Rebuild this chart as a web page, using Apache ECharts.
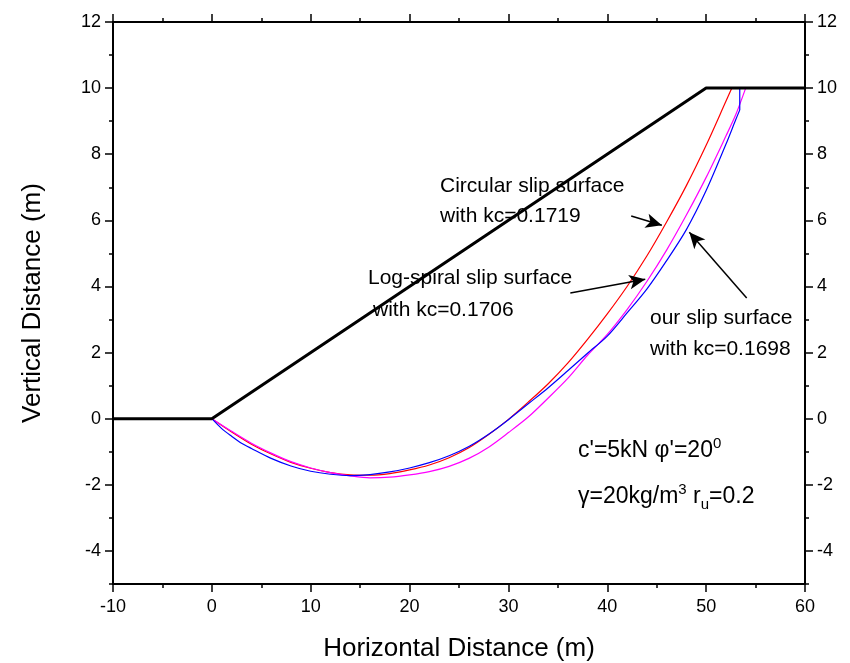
<!DOCTYPE html>
<html>
<head>
<meta charset="utf-8">
<script src="https://cdn.jsdelivr.net/npm/echarts@6/dist/echarts.min.js"></script>
<style>html,body{margin:0;padding:0;background:#fff}#c{width:850px;height:663px}</style>
</head>
<body>
<div id="c"></div>
<script>
// ground profile
var groundX = [-10, 0, 50, 60];
var groundY = [0, 0, 10, 10];
// circular slip surface (kc=0.1719)
var circX = [0, 2, 4, 6, 8, 10, 12, 14, 16, 18, 20, 22, 24, 26, 28, 30, 32, 34, 36, 38, 40, 42, 44, 46, 48, 50, 52, 52.6];
var circY = [0, -0.4, -0.77, -1.07, -1.32, -1.5, -1.63, -1.7, -1.71, -1.66, -1.55, -1.4, -1.18, -0.88, -0.48, -0.02, 0.5, 1.05, 1.68, 2.4, 3.17, 4.0, 4.92, 5.95, 7.05, 8.27, 9.6, 10];
// log-spiral slip surface (kc=0.1706)
var logX = [0, 2, 4, 6, 8, 10, 12, 14, 16, 18, 20, 22, 24, 26, 28, 30, 32, 34, 36, 38, 40, 42, 44, 46, 48, 50, 52, 53, 54];
var logY = [0, -0.38, -0.74, -1.04, -1.3, -1.49, -1.63, -1.73, -1.79, -1.77, -1.7, -1.6, -1.44, -1.2, -0.86, -0.42, 0.05, 0.62, 1.22, 1.92, 2.55, 3.3, 4.15, 5.1, 6.16, 7.3, 8.55, 9.2, 10];
// our slip surface (kc=0.1698)
var ourX = [0, 1, 2, 3, 4, 6, 8, 10, 12, 14, 16, 18, 20, 22, 24, 26, 28, 30, 32, 34, 36, 38, 40, 42, 44, 46, 48, 50, 52, 53, 53.4];
var ourY = [0, -0.3, -0.53, -0.74, -0.9, -1.2, -1.43, -1.59, -1.68, -1.72, -1.69, -1.61, -1.49, -1.33, -1.12, -0.84, -0.47, -0.03, 0.45, 0.93, 1.45, 1.98, 2.5, 3.2, 3.92, 4.78, 5.72, 6.9, 8.3, 9.05, 9.34];
// vertical end of our slip surface
var ourEndX = [53.4, 53.4];
var ourEndY = [9.34, 10];
// tick values
var yMajor = [-4, -2, 0, 2, 4, 6, 8, 10, 12];
var yMinor = [-5, -3, -1, 1, 3, 5, 7, 9, 11];
// arrows [fromX, fromY, toX, toY]
var arrowCirc = [42.42, 6.13, 45.52, 5.85];
var arrowLog = [36.26, 3.80, 43.84, 4.22];
var arrowOur = [54.1, 3.65, 48.3, 5.64];

function zip(xs, ys) { return xs.map(function (x, i) { return [x, ys[i]]; }); }

var FONT = '"Liberation Sans", Arial, sans-serif';
var chart = echarts.init(document.getElementById('c'));

function yAx(pos, custom, len, showLabel, showLine) {
  return {
    type: 'value', position: pos, min: -5, max: 12,
    axisLine: { show: showLine, onZero: false, lineStyle: { color: '#000', width: 2 } },
    axisTick: { show: true, inside: false, length: len, customValues: custom, lineStyle: { color: '#000', width: 1.5 } },
    axisLabel: { show: showLabel, customValues: custom, margin: 12, color: '#000', fontSize: 18, fontFamily: FONT },
    splitLine: { show: false }
  };
}
function xAx(pos, showLabel) {
  return {
    type: 'value', position: pos, min: -10, max: 60, interval: 10,
    axisLine: { show: true, onZero: false, lineStyle: { color: '#000', width: 2 } },
    axisTick: { show: true, inside: false, length: 8, lineStyle: { color: '#000', width: 1.5 } },
    minorTick: { show: true, splitNumber: 2, length: 4, lineStyle: { color: '#000', width: 1.5 } },
    axisLabel: { show: showLabel, margin: 14, color: '#000', fontSize: 18, fontFamily: FONT },
    splitLine: { show: false }
  };
}

var xa0 = xAx('bottom', true);
xa0.name = 'Horizontal Distance (m)';
xa0.nameLocation = 'middle';
xa0.nameGap = 52;
xa0.nameTextStyle = { fontSize: 26, color: '#000', fontFamily: FONT };
var ya0 = yAx('left', yMajor, 8, true, true);
ya0.name = 'Vertical Distance (m)';
ya0.nameLocation = 'middle';
ya0.nameGap = 67;
ya0.nameTextStyle = { fontSize: 26, color: '#000', fontFamily: FONT };

function arrowLine(a) {
  return [{ coord: [a[0], a[1]] }, { coord: [a[2], a[3]] }];
}

var option = {
  animation: false,
  backgroundColor: '#fff',
  grid: { left: 113, right: 45, top: 22, bottom: 79, containLabel: false, outerBoundsMode: 'none' },
  xAxis: [xa0, xAx('top', false)],
  yAxis: [ya0, yAx('left', yMinor, 4, false, false), yAx('right', yMajor, 8, true, true), yAx('right', yMinor, 4, false, false)],
  series: [
    { type: 'line', data: zip(groundX, groundY), showSymbol: false, lineStyle: { color: '#000', width: 3 }, z: 5,
      markLine: {
        silent: true, symbol: ['none', 'arrow'], symbolSize: [11, 16],
        label: { show: false },
        lineStyle: { color: '#000', width: 1.5, type: 'solid' },
        data: [arrowLine(arrowCirc), arrowLine(arrowLog), arrowLine(arrowOur)]
      }
    },
    { type: 'line', data: zip(circX, circY), showSymbol: false, smooth: 0.3, lineStyle: { color: '#ff0000', width: 1.2 } },
    { type: 'line', data: zip(logX, logY), showSymbol: false, smooth: 0.3, lineStyle: { color: '#ff00ff', width: 1.2 } },
    { type: 'line', data: zip(ourX, ourY), showSymbol: false, smooth: 0.3, lineStyle: { color: '#0000ff', width: 1.2 } },
    { type: 'line', data: zip(ourEndX, ourEndY), showSymbol: false, lineStyle: { color: '#0000ff', width: 1.2 } }
  ],
  graphic: [
    { type: 'text', left: 440, top: 176, style: { text: 'Circular slip surface', font: '21px ' + FONT, fill: '#000' } },
    { type: 'text', left: 440, top: 206, style: { text: 'with kc=0.1719', font: '21px ' + FONT, fill: '#000' } },
    { type: 'text', left: 368, top: 268, style: { text: 'Log-spiral slip surface', font: '21px ' + FONT, fill: '#000' } },
    { type: 'text', left: 373, top: 300, style: { text: 'with kc=0.1706', font: '21px ' + FONT, fill: '#000' } },
    { type: 'text', left: 650, top: 308, style: { text: 'our slip surface', font: '21px ' + FONT, fill: '#000' } },
    { type: 'text', left: 650, top: 339, style: { text: 'with kc=0.1698', font: '21px ' + FONT, fill: '#000' } },
    { type: 'text', left: 578, top: 436, style: {
        text: '{a|c\'=5kN \u03c6\'=20}{s|0}',
        rich: { a: { fontSize: 23, fontFamily: FONT, color: '#000' }, s: { fontSize: 15, fontFamily: FONT, color: '#000', padding: [0, 0, 15, 0] } } } },
    { type: 'text', left: 578, top: 482, style: {
        text: '{a|\u03b3=20kg/m}{s|3}{a| r}{b|u}{a|=0.2}',
        rich: { a: { fontSize: 23, fontFamily: FONT, color: '#000' }, s: { fontSize: 15, fontFamily: FONT, color: '#000', padding: [0, 0, 15, 0] }, b: { fontSize: 15, fontFamily: FONT, color: '#000', padding: [15, 0, 0, 0] } } } }
  ]
};
chart.setOption(option);
</script>
</body>
</html>
